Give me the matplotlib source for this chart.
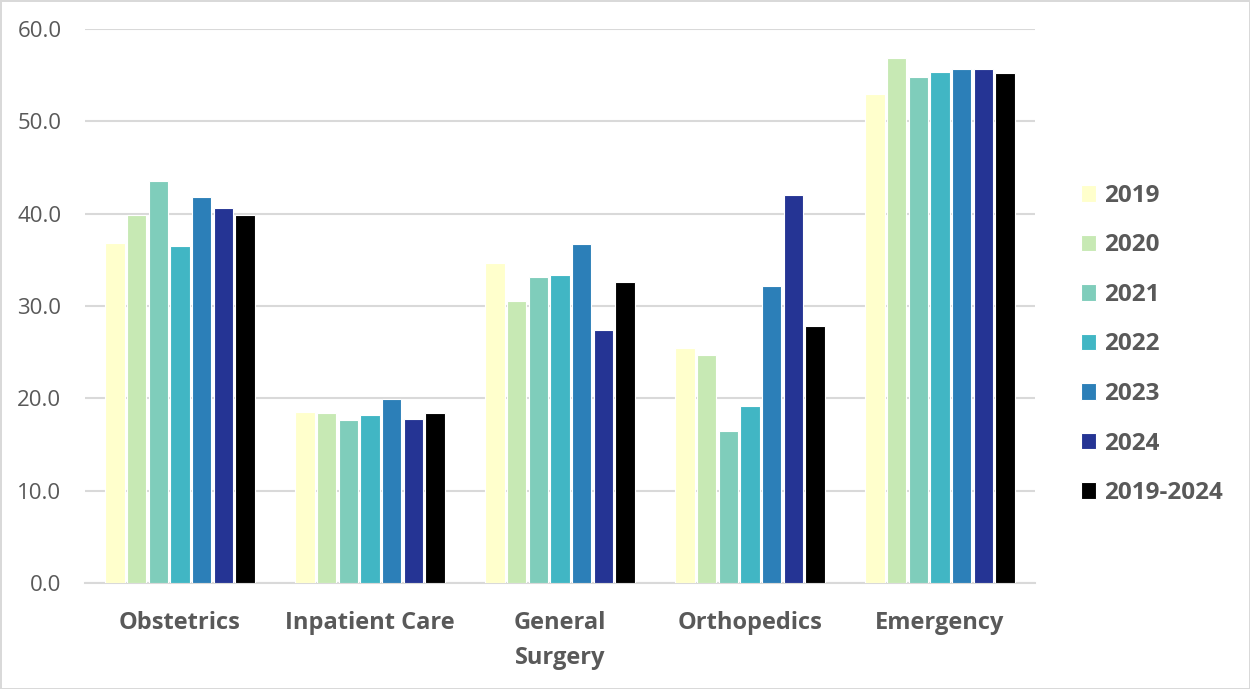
import matplotlib.pyplot as plt
import numpy as np

# data
departments = ['Obstetrics', 'Inpatient Care', 'General\nSurgery', 'Orthopedics', 'Emergency']
series_names = ['2019', '2020', '2021', '2022', '2023', '2024', '2019-2024']
v2019 = [36.8, 18.5, 34.7, 25.4, 53.0]
v2020 = [39.9, 18.4, 30.5, 24.7, 56.8]
v2021 = [43.5, 17.6, 33.1, 16.4, 54.8]
v2022 = [36.5, 18.2, 33.3, 19.2, 55.3]
v2023 = [41.8, 19.9, 36.7, 32.2, 55.7]
v2024 = [40.6, 17.8, 27.4, 42.0, 55.7]
v_all = [39.9, 18.4, 32.6, 27.8, 55.2]
colors = ['#FFFFCC', '#C7E9B4', '#7FCDBB', '#41B6C4', '#2C7FB8', '#253494', '#000000']

all_series = [v2019, v2020, v2021, v2022, v2023, v2024, v_all]
text_color = '#595959'
grid_color = '#D9D9D9'

plt.rcParams['font.family'] = ['Open Sans', 'DejaVu Sans']

fig = plt.figure(figsize=(12.5, 6.89), dpi=100)
fig.patch.set_edgecolor(grid_color)
fig.patch.set_linewidth(2)
ax = fig.add_axes([0.068, 0.154, 0.76, 0.804])

x = np.arange(len(departments))
slot = 0.8 / len(all_series)
for i, (name, vals) in enumerate(zip(series_names, all_series)):
    offs = (i - (len(all_series) - 1) / 2) * slot
    ax.bar(x + offs, vals, width=slot * 0.9, color=colors[i], label=name,
           edgecolor='white', linewidth=0.8, zorder=3)

ax.set_xlim(-0.5, len(departments) - 0.5)
ax.set_ylim(0, 60)
ax.set_yticks(np.arange(0, 61, 10))
ax.set_yticklabels([f'{t:.1f}' for t in np.arange(0, 61, 10)])
ax.yaxis.grid(True, color=grid_color, linewidth=1.5, zorder=0)
ax.set_axisbelow(True)

ax.set_xticks(x)
ax.set_xticklabels(departments, fontsize=17, fontweight='bold', color=text_color,
                   linespacing=1.62, va='top')
ax.tick_params(axis='x', length=0, pad=20)
ax.tick_params(axis='y', length=0, pad=17, labelsize=16, labelcolor=text_color)

for side in ['top', 'right', 'left']:
    ax.spines[side].set_visible(False)
ax.spines['bottom'].set_color(grid_color)
ax.spines['bottom'].set_linewidth(1.5)

leg = fig.legend(loc='center left', bbox_to_anchor=(0.847, 0.50), frameon=False,
                 handlelength=0.65, handleheight=0.65, handletextpad=0.3,
                 labelspacing=1.05, prop={'size': 17.5, 'weight': 'bold'})
for t in leg.get_texts():
    t.set_color(text_color)

plt.savefig('out.png', dpi=100)
